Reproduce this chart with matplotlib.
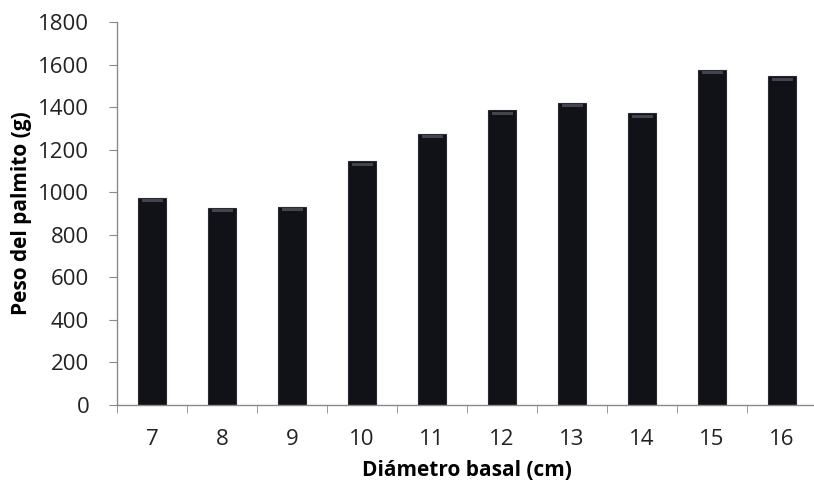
import numpy as np
import matplotlib
matplotlib.use("Agg")
import matplotlib.pyplot as plt

# Diámetro basal (cm) vs. peso del palmito (g)
diametros = ["7", "8", "9", "10", "11", "12", "13", "14", "15", "16"]
pesos = [975, 925, 930, 1145, 1275, 1385, 1420, 1370, 1575, 1545]
y_ticks = [0, 200, 400, 600, 800, 1000, 1200, 1400, 1600, 1800]

plt.rcParams["font.family"] = ["Open Sans", "DejaVu Sans"]

fig = plt.figure(figsize=(8.14, 4.84), dpi=100)
ax = fig.add_axes([117 / 814, 1 - 405 / 484, 700 / 814, 383 / 484])

x = np.arange(len(diametros))
ax.bar(x, pesos, width=0.41, color="#111118", edgecolor="#2a2a35", linewidth=0.8)
# soft highlight on top of each bar
ax.bar(x, [14] * len(pesos), bottom=np.array(pesos) - 20, width=0.30,
       color="#5a5a66", linewidth=0, alpha=0.7)

ax.set_xlim(-0.5, len(diametros) - 0.5)
ax.set_ylim(0, 1800)
ax.set_yticks(y_ticks)
ax.set_xticks(x)
ax.set_xticklabels(diametros)
ax.set_xticks(np.arange(-0.5, len(diametros)), minor=True)

for side in ["top", "right"]:
    ax.spines[side].set_visible(False)
for side in ["left", "bottom"]:
    ax.spines[side].set_color("#8a8a8a")
    ax.spines[side].set_linewidth(1.0)

ax.tick_params(axis="y", direction="out", length=6, color="#8a8a8a", labelsize=16, pad=14,
               labelcolor="#222222")
ax.tick_params(axis="x", which="major", length=0, labelsize=16, pad=17, labelcolor="#222222")
ax.tick_params(axis="x", which="minor", direction="out", length=6, color="#8a8a8a")

ax.set_ylabel("Peso del palmito (g)", fontsize=15, fontweight="bold", va="center")
ax.set_xlabel("Diámetro basal (cm)", fontsize=15, fontweight="bold", va="center")
ax.yaxis.set_label_coords(-0.136, 0.5)
ax.xaxis.set_label_coords(0.5, -0.172)

fig.savefig("out.png", dpi=100)
